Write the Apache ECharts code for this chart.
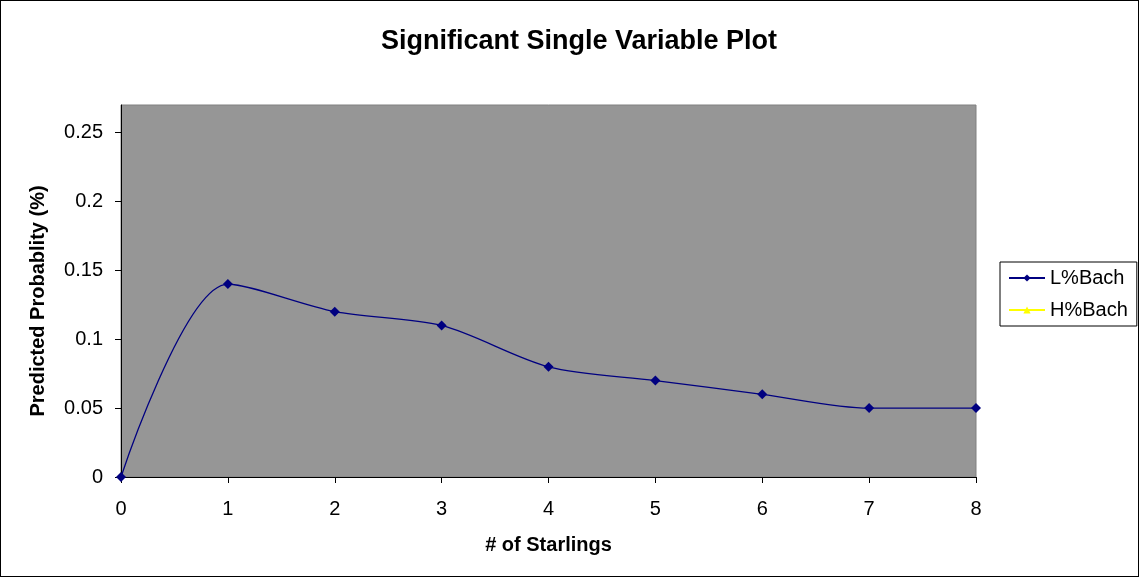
<!DOCTYPE html>
<html>
<head>
<meta charset="utf-8">
<script src="https://cdn.jsdelivr.net/npm/echarts@6/dist/echarts.min.js"></script>
<style>
  html, body { margin: 0; padding: 0; background: #fff; }
  #chart { width: 1139px; height: 577px; box-sizing: border-box; border: 1px solid #000; }
</style>
</head>
<body>
<div id="chart"></div>
<script>
// x = number of starlings, y = predicted probability
var starlings = [0, 1, 2, 3, 4, 5, 6, 7, 8];
var lowBach = [0, 0.14, 0.12, 0.11, 0.08, 0.07, 0.06, 0.05, 0.05];
var highBach = []; // not visible in the plot
var seriesNames = ['L%Bach', 'H%Bach'];

var chart = echarts.init(document.getElementById('chart'));

var option = {
  animation: false,
  title: {
    text: 'Significant Single Variable Plot',
    left: 573,
    textAlign: 'center',
    top: 22,
    textStyle: { fontFamily: 'Liberation Sans', fontSize: 27, fontWeight: 'bold', color: '#000' }
  },
  legend: {
    orient: 'vertical',
    left: 999,
    top: 261,
    itemWidth: 36,
    itemHeight: 9,
    itemGap: 12,
    padding: [6, 9, 6, 8],
    borderColor: '#000',
    borderWidth: 1,
    backgroundColor: '#fff',
    textStyle: { fontFamily: 'Liberation Sans', fontSize: 20, color: '#000' },
    data: seriesNames
  },
  grid: {
    left: 120,
    right: 162,
    top: 104,
    bottom: 99,
    show: true,
    backgroundColor: '#969696',
    borderColor: '#808080',
    borderWidth: 1
  },
  xAxis: {
    type: 'value',
    min: 0,
    max: 8,
    interval: 1,
    name: '# of Starlings',
    nameLocation: 'middle',
    nameGap: 58,
    nameTextStyle: { fontFamily: 'Liberation Sans', fontSize: 20, fontWeight: 'bold', color: '#000' },
    axisLine: { lineStyle: { color: '#000', width: 1 } },
    axisTick: { show: true, length: 6, inside: false, lineStyle: { color: '#000' } },
    axisLabel: { fontFamily: 'Liberation Sans', fontSize: 20, color: '#000', margin: 22 },
    splitLine: { show: false }
  },
  yAxis: {
    type: 'value',
    min: 0,
    max: 0.27,
    interval: 0.05,
    name: 'Predicted Probablity (%)',
    nameLocation: 'middle',
    nameGap: 73,
    nameTextStyle: { fontFamily: 'Liberation Sans', fontSize: 20, fontWeight: 'bold', color: '#000', padding: [0, 20, 0, 0] },
    axisLine: { show: true, lineStyle: { color: '#000', width: 1 } },
    axisTick: { show: true, length: 6, lineStyle: { color: '#000' } },
    axisLabel: { fontFamily: 'Liberation Sans', fontSize: 20, color: '#000', margin: 18, showMaxLabel: false },
    splitLine: { show: false }
  },
  series: [
    {
      name: seriesNames[0],
      type: 'line',
      smooth: 0.3,
      symbol: 'diamond',
      symbolSize: 10,
      color: '#000080',
      lineStyle: { width: 1.3, color: '#000080' },
      itemStyle: { color: '#000080' },
      data: starlings.map(function (x, i) { return [x, lowBach[i]]; })
    },
    {
      name: seriesNames[1],
      type: 'line',
      symbol: 'triangle',
      symbolSize: 10,
      color: '#ffff00',
      lineStyle: { width: 1.3, color: '#ffff00' },
      itemStyle: { color: '#ffff00' },
      data: highBach
    }
  ]
};

chart.setOption(option);
</script>
</body>
</html>
